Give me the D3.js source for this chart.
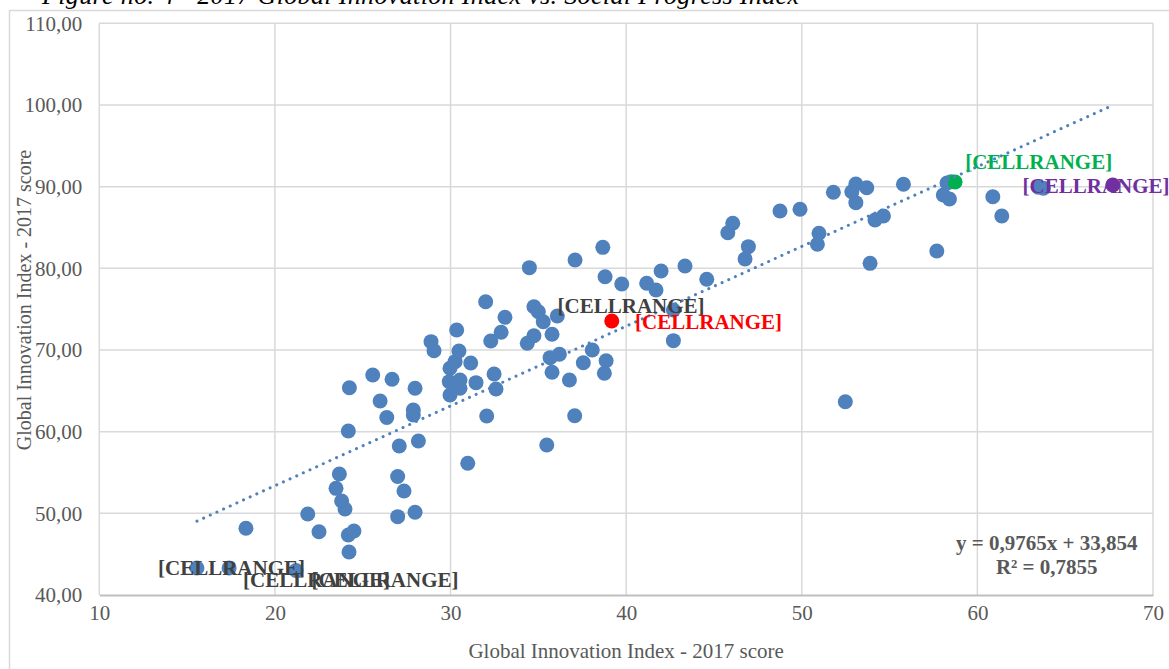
<!DOCTYPE html>
<html>
<head>
<meta charset="utf-8">
<script src="https://cdn.jsdelivr.net/npm/d3@7"></script>
<style>
  body { margin: 0; background: #fff; }
  text { font-family: "Liberation Serif", "Times New Roman", serif; }
</style>
</head>
<body>
<svg id="chart" width="1169" height="669"></svg>
<script>
// data
const innovation = [15.56, 17.39, 21.20, 24.22, 18.35, 21.87, 22.51, 24.18, 24.50, 23.67,
  23.48, 23.80, 23.99, 26.99, 27.35, 27.98, 26.99, 24.18, 27.08, 28.17,
  30.98, 24.24, 25.57, 26.67, 27.98, 25.99, 26.37, 27.88, 27.88, 29.97,
  30.26, 30.48, 31.15, 29.93, 30.54, 30.54, 29.97, 31.45, 32.48, 32.59,
  32.06, 28.89, 29.06, 30.35, 32.00, 33.10, 32.88, 32.29, 34.49, 34.75,
  35.00, 35.28, 36.08, 34.75, 34.37, 35.78, 36.20, 35.67, 35.78, 36.77,
  37.07, 35.48, 38.07, 37.56, 38.86, 38.76, 37.09, 38.67, 38.80, 39.75,
  41.17, 41.70, 41.99, 43.35, 44.59, 42.69, 42.69, 46.07, 45.79, 46.96,
  46.77, 48.76, 49.90, 50.98, 50.89, 51.80, 53.08, 52.85, 53.70, 53.08,
  54.17, 54.65, 53.89, 55.79, 57.69, 58.06, 58.41, 58.27, 58.50, 60.88,
  61.39, 63.47, 63.76, 52.48];
const social = [43.31, 43.31, 43.00, 45.27, 48.17, 49.92, 47.75, 47.35, 47.84, 54.82,
  53.06, 51.51, 50.53, 54.51, 52.73, 50.13, 49.59, 60.08, 58.24, 58.86,
  56.13, 65.38, 66.94, 66.41, 65.31, 63.75, 61.73, 62.65, 62.04, 67.76,
  68.57, 69.88, 68.41, 66.12, 66.33, 65.31, 64.49, 66.00, 67.06, 65.22,
  61.92, 71.02, 69.91, 72.45, 75.91, 74.00, 72.17, 71.10, 80.08, 75.30,
  74.69, 73.46, 74.16, 71.75, 70.82, 71.92, 69.47, 69.06, 67.27, 66.33,
  61.95, 58.37, 70.00, 68.44, 68.69, 67.15, 81.02, 82.57, 78.97, 78.08,
  78.17, 77.35, 79.67, 80.28, 78.66, 74.90, 71.14, 85.51, 84.36, 82.65,
  81.14, 87.02, 87.23, 84.29, 82.94, 89.31, 90.32, 89.38, 89.87, 88.04,
  85.92, 86.41, 80.61, 90.29, 82.12, 88.98, 88.49, 90.45, 90.61, 88.77,
  86.41, 89.92, 89.80, 63.67];

// highlighted points
const highlightX = [39.18, 58.73, 67.71];
const highlightY = [73.55, 90.57, 90.20];
const highlightColors = ['#ff0000', '#00b050', '#7030a0'];

// data labels (as shown in the picture) and where they sit
const labelText = ['[CELLRANGE]', '[CELLRANGE]', '[CELLRANGE]', '[CELLRANGE]', '[CELLRANGE]', '[CELLRANGE]', '[CELLRANGE]'];
const labelX = [17.53, 22.37, 26.27, 40.28, 40.51, 63.49, 66.76];
const labelY = [43.31, 41.84, 41.84, 75.39, 73.43, 93.06, 90.08];
const labelColors = ['#404040', '#404040', '#404040', '#404040', '#ff0000', '#00b050', '#7030a0'];

// trendline
const slope = 0.9765;
const intercept = 33.854;
const equationLines = ['y = 0,9765x + 33,854', 'R² = 0,7855'];

const xTicks = [10, 20, 30, 40, 50, 60, 70];
const yTicks = [40, 50, 60, 70, 80, 90, 100, 110];

const svg = d3.select('#chart');
const width = +svg.attr('width');
const height = +svg.attr('height');
const margin = { top: 23.3, right: 16, bottom: 74, left: 99.3 };
const innerWidth = width - margin.left - margin.right;
const innerHeight = height - margin.top - margin.bottom;

const commaFormat = d3.formatLocale({ decimal: ',', thousands: '.', grouping: [3], currency: ['', ''] }).format('.2f');

const xScale = d3.scaleLinear().domain([10, 70]).range([0, innerWidth]);
const yScale = d3.scaleLinear().domain([40, 110]).range([innerHeight, 0]);

// outer chart border
svg.append('rect')
    .attr('x', 9.5).attr('y', 10.5)
    .attr('width', width).attr('height', height)
    .attr('fill', 'none')
    .attr('stroke', '#d9d9d9')
    .attr('stroke-width', 1.5);

// title, mostly cut off at the top
svg.append('text')
    .attr('x', 42).attr('y', 4)
    .attr('textLength', 757)
    .style('font-size', '26px')
    .style('font-style', 'italic')
    .attr('fill', '#000')
    .text('Figure no. 4 - 2017 Global Innovation Index vs. Social Progress Index');

const g = svg.append('g')
    .attr('transform', 'translate(' + margin.left + ',' + margin.top + ')');

// gridlines
g.append('g').selectAll('line')
    .data(yTicks.slice(1))
    .enter().append('line')
    .attr('x1', 0).attr('x2', innerWidth)
    .attr('y1', d => yScale(d)).attr('y2', d => yScale(d))
    .attr('stroke', '#d9d9d9').attr('stroke-width', 1.5);

g.append('g').selectAll('line')
    .data(xTicks)
    .enter().append('line')
    .attr('x1', d => xScale(d)).attr('x2', d => xScale(d))
    .attr('y1', 0).attr('y2', innerHeight)
    .attr('stroke', '#d9d9d9').attr('stroke-width', 1.5);

// Y axis
const yAxis = g.append('g').call(d3.axisLeft(yScale)
    .tickValues(yTicks)
    .tickSize(0)
    .tickPadding(17)
    .tickFormat(commaFormat));
yAxis.select('.domain').remove();
yAxis.selectAll('text')
    .style('font-size', '21px')
    .style('font-family', '"Liberation Serif", "Times New Roman", serif')
    .attr('fill', '#595959');

// X axis
const xAxis = g.append('g')
    .attr('transform', 'translate(0,' + innerHeight + ')')
    .call(d3.axisBottom(xScale).tickValues(xTicks).tickSize(0).tickPadding(10));
xAxis.select('.domain')
    .attr('stroke', '#bfbfbf')
    .attr('stroke-width', 2);
xAxis.selectAll('text')
    .style('font-size', '21px')
    .style('font-family', '"Liberation Serif", "Times New Roman", serif')
    .attr('fill', '#595959');

// axis labels
svg.append('text')
    .attr('x', margin.left + innerWidth / 2)
    .attr('y', 658)
    .style('text-anchor', 'middle')
    .style('font-size', '21px')
    .attr('fill', '#595959')
    .text('Global Innovation Index - 2017 score');

svg.append('text')
    .attr('transform', 'translate(31,300) rotate(-90)')
    .style('text-anchor', 'middle')
    .style('font-size', '20px')
    .attr('fill', '#595959')
    .text('Global Innovation Index - 2017 score');

// points
g.append('g').selectAll('circle')
    .data(innovation.map((d, i) => ({ x: d, y: social[i] })))
    .enter().append('circle')
    .attr('cx', d => xScale(d.x))
    .attr('cy', d => yScale(d.y))
    .attr('r', 7.5)
    .attr('fill', '#4f81bd');

g.append('g').selectAll('circle')
    .data(highlightX.map((d, i) => ({ x: d, y: highlightY[i], c: highlightColors[i] })))
    .enter().append('circle')
    .attr('cx', d => xScale(d.x))
    .attr('cy', d => yScale(d.y))
    .attr('r', 7.5)
    .attr('fill', d => d.c);

// linear trendline over the x range of the data
const allX = innovation.concat(highlightX);
const xExtent = d3.extent(allX);
g.append('line')
    .attr('x1', xScale(xExtent[0]))
    .attr('y1', yScale(slope * xExtent[0] + intercept))
    .attr('x2', xScale(xExtent[1]))
    .attr('y2', yScale(slope * xExtent[1] + intercept))
    .attr('stroke', '#4f81bd')
    .attr('stroke-width', 3)
    .attr('stroke-linecap', 'round')
    .attr('stroke-dasharray', '0.1 7.2');

// data labels
g.append('g').selectAll('text')
    .data(labelText.map((t, i) => ({ t: t, x: labelX[i], y: labelY[i], c: labelColors[i], anchor: i === 4 ? 'start' : 'middle' })))
    .enter().append('text')
    .attr('x', d => xScale(d.x))
    .attr('y', d => yScale(d.y))
    .attr('dy', '0.35em')
    .style('text-anchor', d => d.anchor)
    .style('font-size', '21px')
    .style('font-weight', 'bold')
    .attr('fill', d => d.c)
    .text(d => d.t);

// equation
g.append('g').selectAll('text')
    .data(equationLines)
    .enter().append('text')
    .attr('x', xScale(63.95))
    .attr('y', (d, i) => yScale(45.5) + i * 24)
    .style('text-anchor', 'middle')
    .style('font-size', '21px')
    .style('font-weight', 'bold')
    .attr('fill', '#595959')
    .text(d => d);
</script>
</body>
</html>
